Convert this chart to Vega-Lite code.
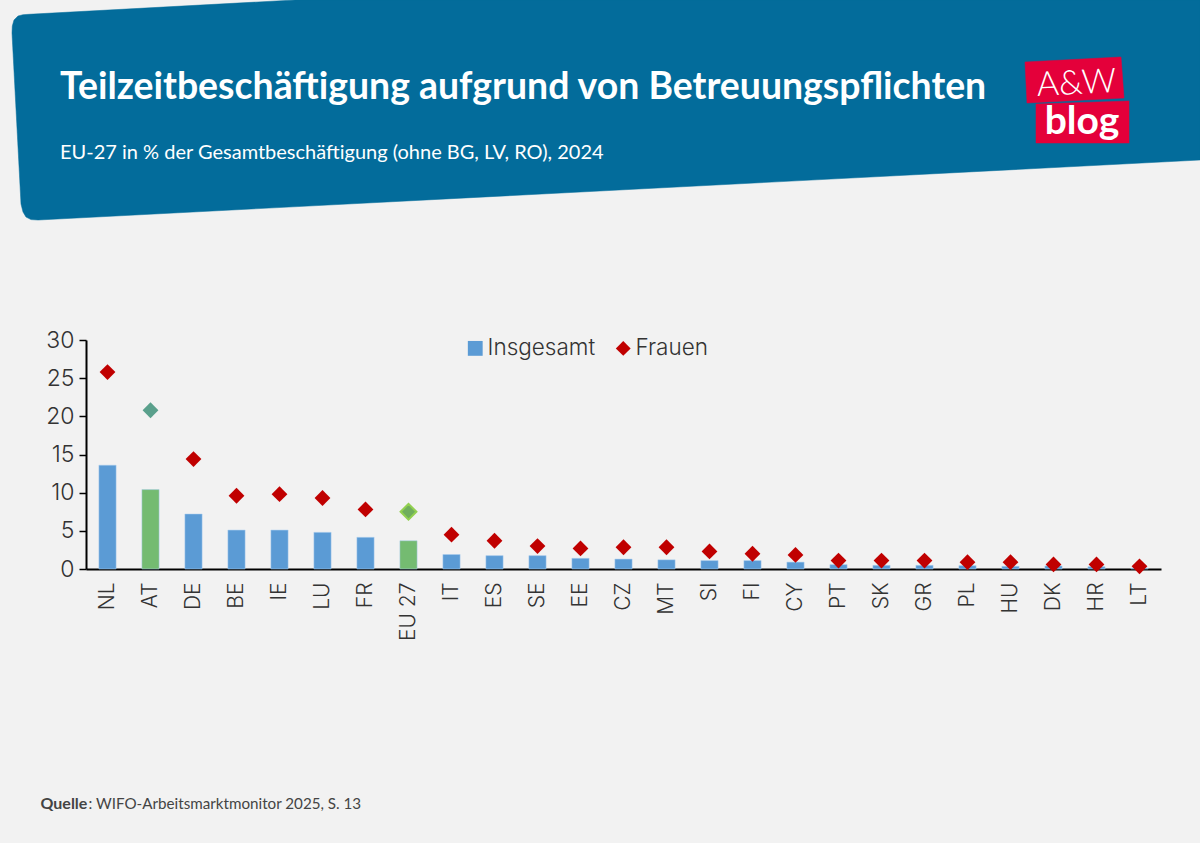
{
  "$schema": "https://vega.github.io/schema/vega-lite/v6.json",
  "background": "#f2f2f2",
  "width": 1075,
  "height": 229,
  "autosize": "none",
  "padding": {"left": 86, "top": 340, "right": 39, "bottom": 274},
  "title": {
    "text": "Teilzeitbeschäftigung aufgrund von Betreuungspflichten",
    "subtitle": "EU-27 in % der Gesamtbeschäftigung (ohne BG, LV, RO), 2024",
    "anchor": "start",
    "frame": "group",
    "dx": -26,
    "dy": 168,
    "color": "white",
    "font": "Lato",
    "fontSize": 37.4,
    "fontWeight": "bold",
    "subtitleColor": "white",
    "subtitleFont": "Lato",
    "subtitleFontSize": 20,
    "subtitleFontWeight": "normal",
    "subtitlePadding": 37
  },
  "datasets": {
    "kopf": [
      {"form": "banner", "n": 1, "x": 12, "y": 33},
      {"form": "banner", "n": 2, "x": 12.3, "y": 26},
      {"form": "banner", "n": 3, "x": 14, "y": 20},
      {"form": "banner", "n": 4, "x": 18, "y": 16},
      {"form": "banner", "n": 5, "x": 23, "y": 14.7},
      {"form": "banner", "n": 6, "x": 29, "y": 14.3},
      {"form": "banner", "n": 7, "x": 295, "y": 0},
      {"form": "banner", "n": 8, "x": 1200, "y": 0},
      {"form": "banner", "n": 9, "x": 1200, "y": 160},
      {"form": "banner", "n": 10, "x": 38, "y": 220},
      {"form": "banner", "n": 11, "x": 31, "y": 219.6},
      {"form": "banner", "n": 12, "x": 26, "y": 217},
      {"form": "banner", "n": 13, "x": 23, "y": 212},
      {"form": "banner", "n": 14, "x": 21, "y": 204},
      {"form": "logo1", "n": 1, "x": 1025, "y": 62},
      {"form": "logo1", "n": 2, "x": 1121, "y": 57},
      {"form": "logo1", "n": 3, "x": 1124, "y": 98},
      {"form": "logo1", "n": 4, "x": 1027, "y": 103},
      {"form": "logo2", "n": 1, "x": 1036, "y": 104},
      {"form": "logo2", "n": 2, "x": 1129, "y": 101},
      {"form": "logo2", "n": 3, "x": 1129, "y": 143},
      {"form": "logo2", "n": 4, "x": 1036, "y": 143}
    ],
    "werte": [
      {"land": "NL", "serie": "Insgesamt", "wert": 13.6},
      {"land": "AT", "serie": "Insgesamt", "wert": 10.4},
      {"land": "DE", "serie": "Insgesamt", "wert": 7.2},
      {"land": "BE", "serie": "Insgesamt", "wert": 5.1},
      {"land": "IE", "serie": "Insgesamt", "wert": 5.1},
      {"land": "LU", "serie": "Insgesamt", "wert": 4.8},
      {"land": "FR", "serie": "Insgesamt", "wert": 4.15},
      {"land": "EU 27", "serie": "Insgesamt", "wert": 3.7},
      {"land": "IT", "serie": "Insgesamt", "wert": 1.9},
      {"land": "ES", "serie": "Insgesamt", "wert": 1.75},
      {"land": "SE", "serie": "Insgesamt", "wert": 1.75},
      {"land": "EE", "serie": "Insgesamt", "wert": 1.4},
      {"land": "CZ", "serie": "Insgesamt", "wert": 1.3},
      {"land": "MT", "serie": "Insgesamt", "wert": 1.2},
      {"land": "SI", "serie": "Insgesamt", "wert": 1.1},
      {"land": "FI", "serie": "Insgesamt", "wert": 1.1},
      {"land": "CY", "serie": "Insgesamt", "wert": 0.9},
      {"land": "PT", "serie": "Insgesamt", "wert": 0.57},
      {"land": "SK", "serie": "Insgesamt", "wert": 0.48},
      {"land": "GR", "serie": "Insgesamt", "wert": 0.48},
      {"land": "PL", "serie": "Insgesamt", "wert": 0.44},
      {"land": "HU", "serie": "Insgesamt", "wert": 0.35},
      {"land": "DK", "serie": "Insgesamt", "wert": 0.4},
      {"land": "HR", "serie": "Insgesamt", "wert": 0.3},
      {"land": "LT", "serie": "Insgesamt", "wert": 0.1},
      {"land": "NL", "serie": "Frauen", "wert": 25.8},
      {"land": "AT", "serie": "Frauen", "wert": 20.8},
      {"land": "DE", "serie": "Frauen", "wert": 14.4},
      {"land": "BE", "serie": "Frauen", "wert": 9.6},
      {"land": "IE", "serie": "Frauen", "wert": 9.8},
      {"land": "LU", "serie": "Frauen", "wert": 9.3},
      {"land": "FR", "serie": "Frauen", "wert": 7.8},
      {"land": "EU 27", "serie": "Frauen", "wert": 7.5},
      {"land": "IT", "serie": "Frauen", "wert": 4.5},
      {"land": "ES", "serie": "Frauen", "wert": 3.7},
      {"land": "SE", "serie": "Frauen", "wert": 3.0},
      {"land": "EE", "serie": "Frauen", "wert": 2.7},
      {"land": "CZ", "serie": "Frauen", "wert": 2.85},
      {"land": "MT", "serie": "Frauen", "wert": 2.85},
      {"land": "SI", "serie": "Frauen", "wert": 2.3},
      {"land": "FI", "serie": "Frauen", "wert": 2.0},
      {"land": "CY", "serie": "Frauen", "wert": 1.85},
      {"land": "PT", "serie": "Frauen", "wert": 1.1},
      {"land": "SK", "serie": "Frauen", "wert": 1.1},
      {"land": "GR", "serie": "Frauen", "wert": 1.1},
      {"land": "PL", "serie": "Frauen", "wert": 0.9},
      {"land": "HU", "serie": "Frauen", "wert": 0.9},
      {"land": "DK", "serie": "Frauen", "wert": 0.6},
      {"land": "HR", "serie": "Frauen", "wert": 0.6},
      {"land": "LT", "serie": "Frauen", "wert": 0.35}
    ]
  },
  "resolve": {
    "scale": {"x": "independent", "y": "independent", "color": "independent", "shape": "independent"},
    "axis": {"x": "independent", "y": "independent"}
  },
  "layer": [
    {
      "data": {"name": "kopf"},
      "encoding": {
        "x": {"field": "x", "type": "quantitative", "axis": null, "scale": {"domain": [86, 1161], "zero": false, "nice": false}},
        "y": {"field": "y", "type": "quantitative", "axis": null, "scale": {"domain": [340, 569], "reverse": true, "zero": false, "nice": false}},
        "order": {"field": "n", "type": "quantitative"}
      },
      "layer": [
        {
          "transform": [{"filter": "datum.form === 'banner'"}],
          "mark": {"type": "line", "clip": false, "fill": "#036c9b", "stroke": "#036c9b", "strokeWidth": 0.5, "interpolate": "linear-closed"}
        },
        {
          "transform": [{"filter": "datum.form === 'logo1'"}],
          "mark": {"type": "line", "clip": false, "fill": "#e4003a", "stroke": "#e4003a", "strokeWidth": 0.5, "interpolate": "linear-closed"}
        },
        {
          "transform": [{"filter": "datum.form === 'logo2'"}],
          "mark": {"type": "line", "clip": false, "fill": "#e4003a", "stroke": "#e4003a", "strokeWidth": 0.5, "interpolate": "linear-closed"}
        },
        {
          "data": {"values": [{"x": 1077, "y": 94, "txt": "A&W"}]},
          "mark": {"type": "text", "font": "Lato", "fontSize": 34, "fontWeight": 300, "color": "white", "angle": 357, "align": "center", "baseline": "alphabetic"},
          "encoding": {"text": {"field": "txt"}, "order": null}
        },
        {
          "data": {"values": [{"x": 1082, "y": 134, "txt": "blog"}]},
          "mark": {"type": "text", "font": "Lato", "fontSize": 39, "fontWeight": "bold", "color": "white", "align": "center", "baseline": "alphabetic"},
          "encoding": {"text": {"field": "txt"}, "order": null}
        }
      ]
    },
    {
      "data": {"name": "werte"},
      "encoding": {
        "x": {
          "field": "land",
          "type": "nominal",
          "title": ": WIFO-Arbeitsmarktmonitor 2025, S. 13",
          "scale": {
            "domain": ["NL", "AT", "DE", "BE", "IE", "LU", "FR", "EU 27", "IT", "ES", "SE", "EE", "CZ", "MT", "SI", "FI", "CY", "PT", "SK", "GR", "PL", "HU", "DK", "HR", "LT"],
            "paddingInner": 0.6,
            "paddingOuter": 0.3
          },
          "axis": {
            "labelAngle": -90,
            "labelFont": "Inter",
            "labelFontSize": 21,
            "labelFontWeight": 300,
            "labelColor": "#333333",
            "labelPadding": 13,
            "ticks": false,
            "domainColor": "#000000",
            "domainWidth": 2,
            "grid": false,
            "titleFont": "Lato",
            "titleFontSize": 15.2,
            "titleFontWeight": "normal",
            "titleColor": "#444444",
            "titleX": 2,
            "titleY": 239,
            "titleAlign": "left",
            "titleAnchor": "start",
            "titleBaseline": "alphabetic"
          }
        },
        "y": {
          "field": "wert",
          "type": "quantitative",
          "title": "Quelle",
          "scale": {"domain": [0, 30], "nice": false},
          "axis": {
            "values": [0, 5, 10, 15, 20, 25, 30],
            "labelFont": "Inter",
            "labelFontSize": 23,
            "labelFontWeight": 300,
            "labelColor": "#333333",
            "labelPadding": 5,
            "tickColor": "#000000",
            "tickSize": 7,
            "tickWidth": 1.5,
            "domainColor": "#000000",
            "domainWidth": 2,
            "grid": false,
            "titleFont": "Lato",
            "titleFontSize": 16,
            "titleFontWeight": "bold",
            "titleColor": "#444444",
            "titleAngle": 0,
            "titleX": -46,
            "titleY": 468,
            "titleAlign": "left",
            "titleBaseline": "alphabetic"
          }
        },
        "color": {
          "condition": {"test": "datum.serie === 'Insgesamt' && (datum.land === 'AT' || datum.land === 'EU 27')", "value": "#74bb71"},
          "field": "serie",
          "type": "nominal",
          "scale": {"domain": ["Insgesamt", "Frauen"], "range": ["#5b9bd5", "#c00000"]},
          "legend": {
            "title": null,
            "orient": "none",
            "direction": "horizontal",
            "legendX": 378,
            "legendY": -3,
            "labelFont": "Inter",
            "labelFontSize": 22.5,
            "labelFontWeight": 300,
            "labelColor": "#333333",
            "symbolSize": 220,
            "columnPadding": 16,
            "labelOffset": 1,
            "symbolStrokeWidth": 0
          }
        }
      },
      "layer": [
        {
          "transform": [{"filter": "datum.serie === 'Insgesamt'"}],
          "mark": {"type": "bar", "stroke": "#a9cdee", "strokeWidth": 0.5}
        },
        {
          "transform": [{"filter": "datum.serie === 'Frauen'"}],
          "mark": {"type": "point", "filled": true, "size": 250, "opacity": 1, "clip": false},
          "encoding": {
            "shape": {
              "field": "serie",
              "type": "nominal",
              "scale": {"domain": ["Insgesamt", "Frauen"], "range": ["square", "diamond"]},
              "legend": {
                "title": null,
                "orient": "none",
                "direction": "horizontal",
                "legendX": 378,
                "legendY": -3,
                "labelFont": "Inter",
                "labelFontSize": 22.5,
                "labelFontWeight": 300,
                "labelColor": "#333333",
                "symbolSize": 220,
                "columnPadding": 16,
                "labelOffset": 1,
                "symbolStrokeWidth": 0
              }
            },
            "color": {
              "condition": [
                {"test": "datum.land === 'AT'", "value": "#5aa08c"},
                {"test": "datum.land === 'EU 27'", "value": "#6fae5c"}
              ],
              "field": "serie",
              "type": "nominal",
              "scale": {"domain": ["Insgesamt", "Frauen"], "range": ["#5b9bd5", "#c00000"]},
              "legend": null
            },
            "stroke": {
              "condition": {"test": "datum.land === 'EU 27'", "value": "#92d050"},
              "value": null
            },
            "strokeWidth": {"value": 2}
          }
        }
      ]
    }
  ],
  "config": {"view": {"stroke": null}}
}
